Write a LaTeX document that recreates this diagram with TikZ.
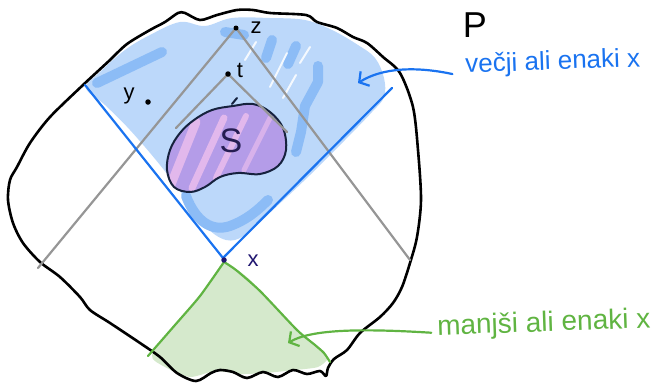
\documentclass[tikz,border=0pt]{standalone}
\usepackage{fontspec}
\setmainfont{Liberation Sans}
\usetikzlibrary{arrows.meta, calc}
\definecolor{modra}{RGB}{26,115,240}
\definecolor{modrasenca}{RGB}{188,216,250}
\definecolor{modrapoteza}{RGB}{140,188,246}
\definecolor{siva}{RGB}{150,150,150}
\definecolor{zelena}{RGB}{96,180,66}
\definecolor{zelenasenca}{RGB}{213,233,204}
\definecolor{vijolicna}{RGB}{180,156,232}
\definecolor{roza}{RGB}{226,184,236}
\definecolor{temna}{RGB}{22,34,62}
\definecolor{mornarska}{RGB}{32,22,112}
\tikzset{
  obris/.style={draw=black, line width=2.6pt, line join=round, line cap=round},
  senca/.style={line width=10pt, line cap=round, line join=round},
  puscica/.style={-{Straight Barb[length=7pt, width=17pt]}, line width=2.2pt, line cap=round},
}

\begin{document}
\begin{tikzpicture}[
    x=1pt, y=-1pt,
    stozec/.style={
        line width=2.2pt,
        line cap=round
    },
    tocka/.style={
        circle,
        fill=black,
        inner sep=0pt,
        minimum size=5.5pt
    },
    oznaka/.style={
        font=\fontsize{22}{22}\selectfont,
        inner sep=1pt
    },
    napis/.style={
        font=\fontsize{26}{26}\selectfont,
        text height=0.72em,
        text depth=0.2em,
        inner sep=0pt
    }
]
\useasboundingbox (0,0) rectangle (667,383);

% vecji ali enaki x
\fill[modrasenca] plot[smooth cycle, tension=0.6] coordinates {
  (86,88) (100,72) (125,50) (150,35) (180,22) (205,26) (232,18) (270,18)
  (305,20) (332,30) (358,45) (375,58) (384,78) (384,97) (372,112)
  (345,140) (310,175) (275,208) (245,235) (226,240) (205,226) (185,198)
  (160,165) (130,130) (105,105)};
\begin{scope}[modrapoteza, senca]
\draw (97,83) -- (162,52);
\draw (225,32) -- (244,35);
\draw (272,40) -- (266,58);
\draw (296,46) -- (288,64);
\draw (318,66) -- (318,82) -- (305,106) -- (301,132) -- (296,152);
\draw (186,196) .. controls (196,222) and (212,232) .. (230,226)
      .. controls (246,220) and (256,212) .. (268,200);
\end{scope}
\begin{scope}[white, line width=2pt, line cap=round, opacity=0.85]
\draw (270,87) -- (287,53);
\draw (300,63) -- (310,47);
\draw (283,98) -- (296,75);
\draw (245,60) -- (256,42);
\draw (262,160) -- (276,140);
\end{scope}

% S
\fill[vijolicna] plot[smooth cycle, tension=0.6] coordinates {
  (233,106) (253,104) (270,112) (283,128) (286,150) (278,166) (260,174)
  (238,173) (220,177) (205,187) (190,192) (174,187) (167,170) (170,150)
  (180,133) (194,120) (212,110)};
\begin{scope}
\clip plot[smooth cycle, tension=0.6] coordinates {
  (233,106) (253,104) (270,112) (283,128) (286,150) (278,166) (260,174)
  (238,173) (220,177) (205,187) (190,192) (174,187) (167,170) (170,150)
  (180,133) (194,120) (212,110)};
\draw[roza, line width=9pt, line cap=round] (168,192) -- (196,122);
\draw[roza, line width=7pt, line cap=round] (192,188) -- (224,118);
\draw[roza, line width=6pt, line cap=round] (216,178) -- (246,116);
\draw[roza, line width=5pt, line cap=round, opacity=0.8] (244,170) -- (270,118);
\end{scope}
\draw[temna, line width=2pt, line join=round] plot[smooth cycle, tension=0.6] coordinates {
  (233,106) (253,104) (270,112) (283,128) (286,150) (278,166) (260,174)
  (238,173) (220,177) (205,187) (190,192) (174,187) (167,170) (170,150)
  (180,133) (194,120) (212,110)};
\draw[temna, line width=2pt, line cap=round] (232,104) -- (237,98);

% manjsi ali enaki x
\fill[zelenasenca] plot[smooth cycle, tension=0.4] coordinates {
  (224,264) (205,290) (180,320) (152,355) (165,367) (190,377)
  (215,371) (240,374) (265,373) (295,370) (318,367) (328,358) (318,347)
  (297,330) (272,305) (248,278)};

% P
\draw[obris] plot[smooth cycle, tension=0.5] coordinates {
  (83,85) (97,72) (110,60) (127,44) (150,30) (165,22) (178,13) (185,13)
  (200,20) (217,15) (237,10) (253,10) (270,13) (306,15) (317,22) (337,28)
  (353,37) (367,43) (383,57) (400,73) (413,107) (418,150) (421,200)
  (417,237) (410,263) (402,287) (393,303) (380,317) (360,333) (347,350)
  (334,359) (328,368) (326,376) (320,371) (307,374) (293,370) (278,377)
  (263,372) (247,378) (233,372) (220,370) (211,373) (196,381) (177,373)
  (160,357) (140,343) (110,323) (90,310) (80,297) (60,277) (40,262)
  (23,243) (13,223) (8,200) (10,180) (17,167) (30,143) (50,117)};

\coordinate (x) at (223,258);
\coordinate (z) at (236,28);
\coordinate (t) at (228,74);
\coordinate (y) at (148,102);
\coordinate (xlevo) at (85,85);
\coordinate (xdesno) at (392,88);
\coordinate (zlevo) at (38,268);
\coordinate (zdesno) at (410,260);
\coordinate (tlevo) at (176,128);
\coordinate (tdesno) at (287,132);

\draw[stozec, siva] (zlevo) -- (z) -- (zdesno);
\draw[stozec, siva] (tlevo) -- (t) -- (tdesno);
\draw[stozec, modra, line join=miter] (xlevo) -- (x) -- (xdesno);
\draw[stozec, zelena, line join=round] plot[smooth, tension=0.4] coordinates {
  (148,356) (175,325) (200,296) (224,262)};
\draw[stozec, zelena, line join=round] plot[smooth, tension=0.4] coordinates {
  (224,262) (236,270) (260,291) (297,330) (315,345) (324,353) (330,362)};

\node[tocka, minimum size=5pt] at (z) {};
\node[tocka] at (t) {};
\node[tocka] at (y) {};
\node[tocka, fill=mornarska] at ($(x)+(1,2)$) {};

\node[oznaka] (oz) at (256,28) {z};
\node[oznaka] (ot) at (240,70) {t};
\node[oznaka] (oy) at (129,96) {y};
\node[oznaka, mornarska] (ox) at (253,261) {x};
\node[oznaka, font=\fontsize{34}{34}\selectfont, text=mornarska!80!vijolicna!60!black] (os) at (231,141) {S};
\node[oznaka, font=\fontsize{36}{36}\selectfont, text height=25pt, text depth=0pt, inner sep=0pt] (op) at (475,25) {P};

\node[napis, text=modra, rotate=2] (vecji) at (553,67) {večji ali enaki x};
\node[napis, text=zelena, rotate=2, font=\fontsize{28}{28}\selectfont] (manjsi) at (544,329) {manjši ali enaki x};

\coordinate (vrhmodra) at (358,83);
\coordinate (vrhzelena) at (288,343);
\draw[puscica, modra] ([shift={(-13,4)}]vecji.west) .. controls (415,66) and (382,68) .. (vrhmodra);
\draw[puscica, zelena] ([shift={(-6,0)}]manjsi.west) .. controls (355,328) and (310,330) .. (vrhzelena);

\end{tikzpicture}
\end{document}
